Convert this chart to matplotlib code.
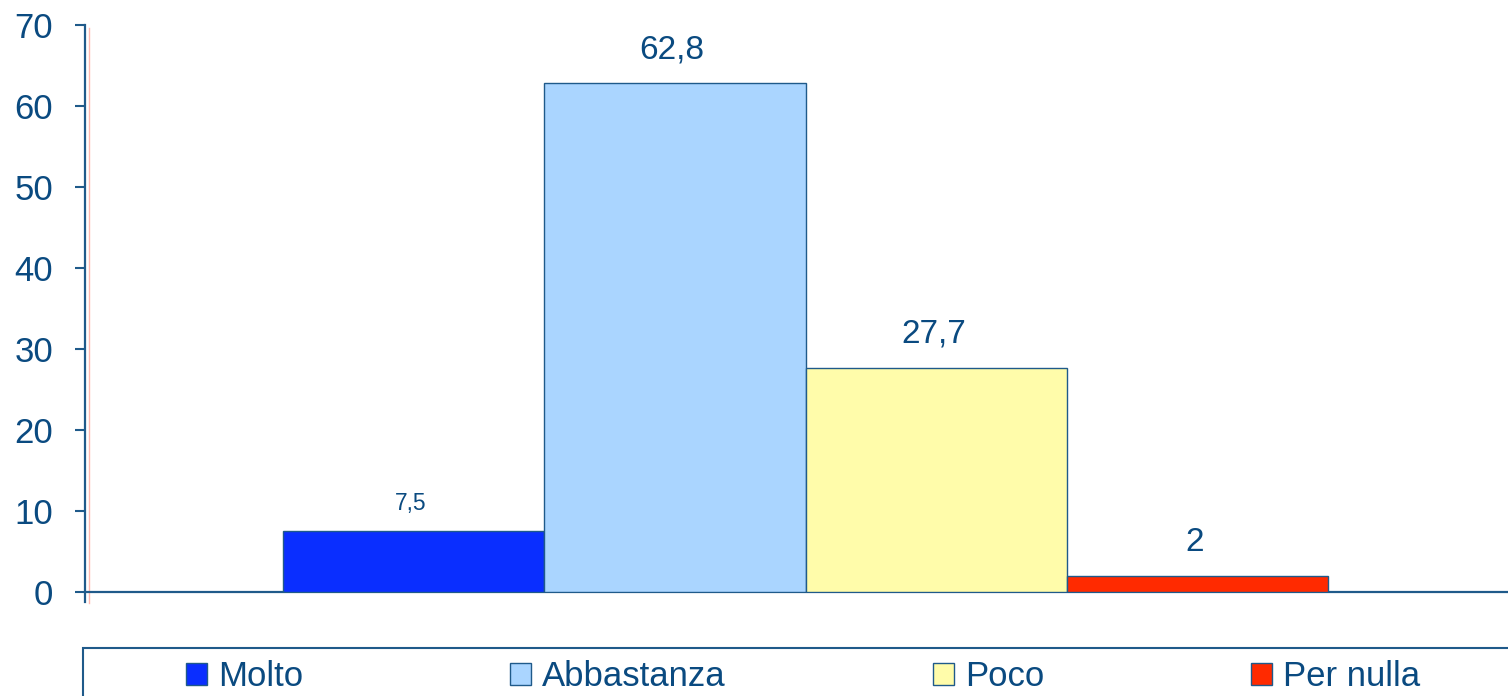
import matplotlib
matplotlib.use("Agg")
import matplotlib.pyplot as plt
from matplotlib.patches import Rectangle

categories = ["Molto", "Abbastanza", "Poco", "Per nulla"]
values = [7.5, 62.8, 27.7, 2]
labels = ["7,5", "62,8", "27,7", "2"]
label_sizes = [16.5, 24, 24, 24]
colors = ["#0A2EFF", "#AAD5FF", "#FFFCAA", "#FF2A00"]
yticks = [0, 10, 20, 30, 40, 50, 60, 70]

TEXT = "#0A4A80"
LINE = "#1F5A8A"

plt.rcParams["font.family"] = ["Liberation Sans", "DejaVu Sans"]

W, H = 1508, 696
fig = plt.figure(figsize=(W / 100, H / 100), dpi=100)
ax = fig.add_axes([85 / W, 1 - 592 / H, 1 - 85 / W, (592 - 25) / H])

xs = list(range(len(categories)))
bars = ax.bar(xs, values, width=1.0, color=colors, edgecolor=LINE, linewidth=1.0,
              label=categories, zorder=3)
for b, lab, fs in zip(bars, labels, label_sizes):
    ax.annotate(lab, (b.get_x() + b.get_width() / 2, b.get_height()),
                xytext=(-2, 13 if fs > 20 else 12), textcoords="offset points",
                ha="center", va="bottom", fontsize=fs, color=TEXT)

unit = 261.25
ax.set_xlim(-0.5 - 198 / unit, -0.5 + 1225 / unit)
ax.set_ylim(0, 70)
ax.set_yticks(yticks)
ax.set_yticklabels([str(t) for t in yticks], fontsize=25, color=TEXT)
ax.set_xticks([])
ax.tick_params(axis="y", direction="out", length=7, width=1.5, color=LINE, pad=16)
for s in ["top", "right"]:
    ax.spines[s].set_visible(False)
ax.spines["left"].set_color(LINE)
ax.spines["left"].set_linewidth(1.6)
ax.spines["left"].set_bounds(-1.2, 70)
ax.spines["bottom"].set_color(LINE)
ax.spines["bottom"].set_linewidth(1.6)

# faint red guide line next to the axis
xl = ax.get_xlim()[0] + 3.5 / unit
ax.plot([xl, xl], [-1.3, 69.6], color="#FFB8B0", lw=1.0, clip_on=False, zorder=1)

# legend frame
fig.patches.append(Rectangle((83 / W, -0.05), 1.0, 0.05 + 1 - 648 / H,
                             transform=fig.transFigure, fill=False,
                             edgecolor=LINE, linewidth=1.5))

handles = [Rectangle((0, 0), 1, 1, facecolor=c, edgecolor=LINE, linewidth=1.0) for c in colors]
fig.legend(handles, categories, loc="center left",
           bbox_to_anchor=(186 / W, 1 - 677 / H, (1420 - 186) / W, 0),
           mode="expand", ncol=4, frameon=False, fontsize=25,
           handlelength=0.6, handleheight=0.6, handletextpad=0.32,
           borderpad=0, borderaxespad=0, labelcolor=TEXT)

fig.savefig("out.png", dpi=100)
